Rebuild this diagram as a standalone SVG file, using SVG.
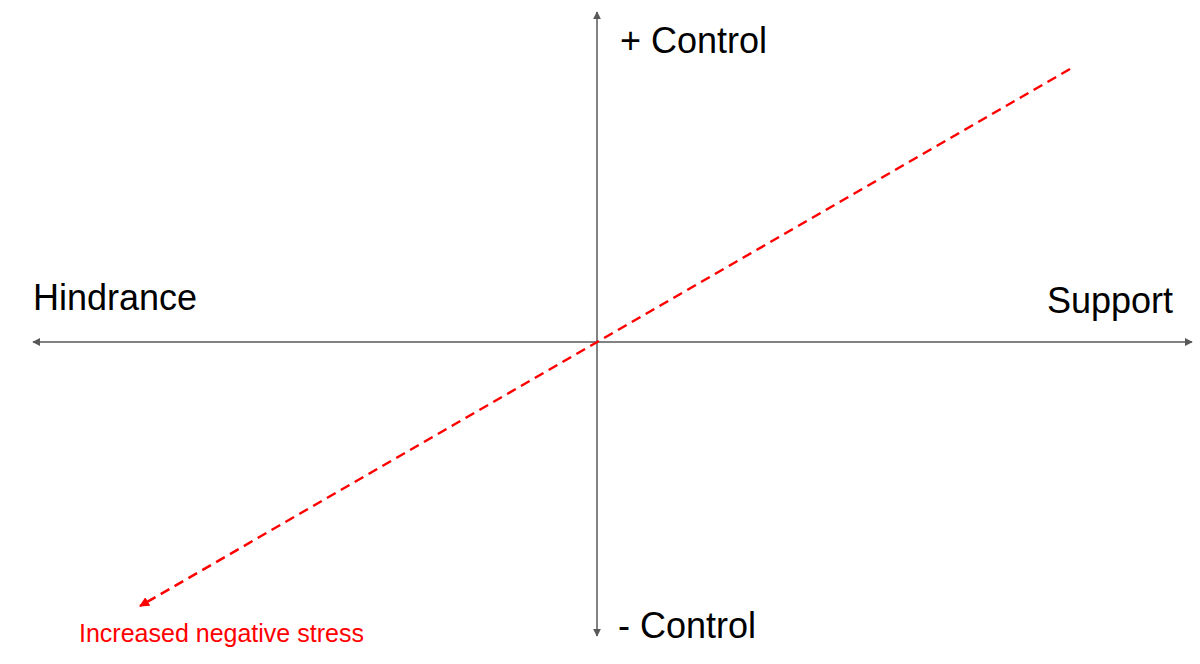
<svg xmlns="http://www.w3.org/2000/svg" width="1200" height="664" viewBox="0 0 1200 664">
<style>
.axis{stroke:#595959;stroke-width:1.5;fill:none}
.lbl{font-family:"Liberation Sans",Arial,sans-serif;font-size:36px;fill:#000}
.red{stroke:#ff0000;stroke-width:2.5;stroke-dasharray:10 6;fill:none}
.rlbl{font-family:"Liberation Sans",Arial,sans-serif;font-size:25px;fill:#ff0000}
</style>
<defs>
<marker id="ga" viewBox="0 0 10 10" refX="9" refY="5" markerWidth="8" markerHeight="8" markerUnits="userSpaceOnUse" orient="auto-start-reverse"><path d="M0,0L10,5L0,10z" fill="#595959"/></marker>
<marker id="ra" viewBox="0 0 10 10" refX="9" refY="5" markerWidth="10" markerHeight="10" markerUnits="userSpaceOnUse" orient="auto"><path d="M0,0L10,5L0,10z" fill="#ff0000"/></marker>
</defs>
<g id="connectors">
<line class="axis" x1="597" y1="636" x2="597" y2="12" marker-end="url(#ga)" marker-start="url(#ga)"/>
<line class="axis" x1="33" y1="342" x2="1192" y2="342" marker-end="url(#ga)" marker-start="url(#ga)"/>
<line class="red" x1="1070" y1="69" x2="140" y2="606" marker-end="url(#ra)"/>
</g>
<g id="plus-control"><text class="lbl" x="620" y="53">+ Control</text></g>
<g id="minus-control"><text class="lbl" x="618" y="638">- Control</text></g>
<g id="hindrance"><text class="lbl" x="33" y="310">Hindrance</text></g>
<g id="support"><text class="lbl" x="1173" y="313" text-anchor="end">Support</text></g>
<g id="stress"><text class="rlbl" x="79" y="642">Increased negative stress</text></g>
</svg>
